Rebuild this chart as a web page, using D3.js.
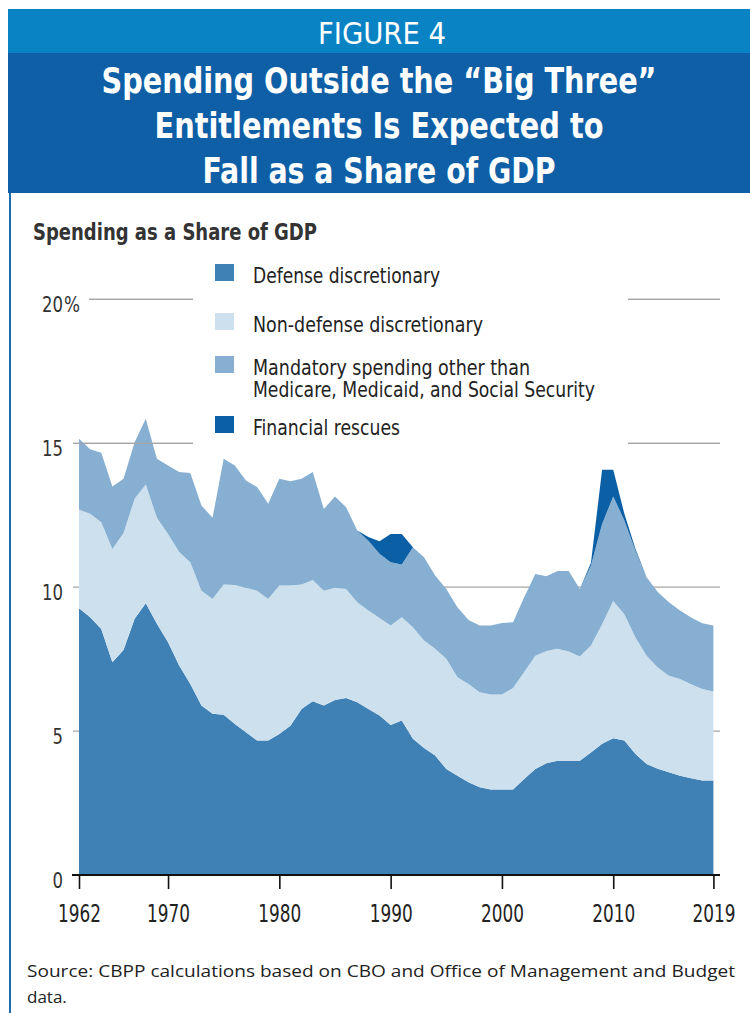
<!DOCTYPE html>
<html lang="en">
<head>
<meta charset="utf-8">
<title>Figure 4 - spending outside the big three</title>
<script src="https://d3js.org/d3.v7.min.js"></script>
<style>
  body { margin: 0; background: #fff; }
  svg { display: block; }
  .cond { font-family: "Liberation Sans Narrow", "DejaVu Sans Condensed", "Roboto Condensed", sans-serif; }
</style>
</head>
<body>
<script>
// years 1962..2019, share of GDP (%)
var years = d3.range(1962, 2020);

var defense = [9.27, 8.96, 8.55, 7.39, 7.82, 8.9, 9.44, 8.73, 8.09, 7.28,
  6.64, 5.89, 5.6, 5.57, 5.25, 4.96, 4.67, 4.67, 4.9, 5.19,
  5.77, 6.04, 5.89, 6.08, 6.15, 6.0, 5.77, 5.54, 5.21, 5.37,
  4.73, 4.41, 4.15, 3.68, 3.45, 3.22, 3.05, 2.97, 2.97, 2.97,
  3.34, 3.68, 3.88, 3.97, 3.97, 3.97, 4.26, 4.56, 4.75, 4.67,
  4.2, 3.86, 3.69, 3.57, 3.45, 3.36, 3.28, 3.28];

var nonDefense = [3.42, 3.59, 3.71, 3.94, 4.06, 4.17, 4.13, 3.68, 3.76, 3.94,
  4.23, 3.99, 3.99, 4.52, 4.83, 5.02, 5.21, 4.92, 5.16, 4.87,
  4.32, 4.21, 3.99, 3.9, 3.79, 3.48, 3.42, 3.39, 3.46, 3.59,
  3.88, 3.74, 3.71, 3.83, 3.42, 3.42, 3.3, 3.3, 3.3, 3.53,
  3.71, 3.94, 3.9, 3.89, 3.8, 3.62, 3.71, 4.15, 4.77, 4.39,
  4.05, 3.76, 3.52, 3.35, 3.36, 3.27, 3.18, 3.1];

var mandatory = [2.47, 2.24, 2.41, 2.17, 1.89, 1.97, 2.28, 2.05, 2.38, 2.78,
  3.1, 2.96, 2.82, 4.37, 4.15, 3.73, 3.6, 3.31, 3.71, 3.62,
  3.68, 3.75, 2.84, 3.17, 2.84, 2.49, 2.42, 2.23, 2.2, 1.83,
  2.78, 2.89, 2.55, 2.43, 2.43, 2.22, 2.32, 2.4, 2.49, 2.28,
  2.6, 2.84, 2.6, 2.7, 2.79, 2.35, 2.78, 3.49, 3.63, 3.26,
  3.02, 2.73, 2.62, 2.56, 2.38, 2.32, 2.29, 2.29];

var rescues = [0, 0, 0, 0, 0, 0, 0, 0, 0, 0,
  0, 0, 0, 0, 0, 0, 0, 0, 0, 0,
  0, 0, 0, 0, 0, 0, 0.13, 0.44, 0.98, 1.06,
  0, 0, 0, 0, 0, 0, 0, 0, 0, 0,
  0, 0, 0, 0, 0, 0, 0.1, 1.88, 0.93, 0.23,
  0.06, 0, 0, 0, 0, 0, 0, 0];

var seriesKeys = ["defense", "nonDefense", "mandatory", "rescues"];
var seriesLabels = [["Defense discretionary"], ["Non-defense discretionary"],
  ["Mandatory spending other than", "Medicare, Medicaid, and Social Security"], ["Financial rescues"]];
var colors = ["#3f80b5", "#cde0ee", "#86afd2", "#0b5fa5"];

var yTicks = [0, 5, 10, 15, 20];
var xTickYears = [1962, 1970, 1980, 1990, 2000, 2010, 2019];

var W = 750, H = 1013;

var rows = years.map(function (yr, i) {
  return { year: yr, defense: defense[i], nonDefense: nonDefense[i], mandatory: mandatory[i], rescues: rescues[i] };
});

var svg = d3.select("body").append("svg")
  .attr("width", W)
  .attr("height", H);

// frame + header bands
svg.append("rect").attr("x", 9).attr("y", 9).attr("width", 2).attr("height", H - 9).attr("fill", "#1a6db3");
svg.append("rect").attr("x", 8).attr("y", 9).attr("width", W - 8).attr("height", 44).attr("fill", "#0983c4");
svg.append("rect").attr("x", 8).attr("y", 53).attr("width", W - 8).attr("height", 140).attr("fill", "#0f5fa6");

svg.append("text").attr("class", "cond")
  .attr("x", 382).attr("y", 44)
  .attr("text-anchor", "middle")
  .attr("fill", "#fff")
  .attr("font-size", 30)
  .attr("textLength", 128).attr("lengthAdjust", "spacingAndGlyphs")
  .text("FIGURE 4");

var titleLines = [
  { t: "Spending Outside the \u201CBig Three\u201D", w: 555, y: 93 },
  { t: "Entitlements Is Expected to", w: 449, y: 138 },
  { t: "Fall as a Share of GDP", w: 353, y: 183 }
];
svg.selectAll("text.title").data(titleLines).join("text")
  .attr("class", "title cond")
  .attr("x", 379).attr("y", function (d) { return d.y; })
  .attr("text-anchor", "middle")
  .attr("fill", "#fff")
  .attr("font-size", 36)
  .attr("font-weight", "bold")
  .attr("textLength", function (d) { return d.w; })
  .attr("lengthAdjust", "spacingAndGlyphs")
  .text(function (d) { return d.t; });

svg.append("text").attr("class", "cond")
  .attr("x", 33).attr("y", 240)
  .attr("fill", "#333")
  .attr("font-size", 23)
  .attr("font-weight", "bold")
  .attr("textLength", 284).attr("lengthAdjust", "spacingAndGlyphs")
  .text("Spending as a Share of GDP");

// scales
var x = d3.scaleLinear().domain([1962, 2019]).range([79, 713.4]);
var y = d3.scaleLinear().domain([0, 20]).range([875, 299.4]);

// gridlines behind the areas
var grid = svg.append("g");
grid.selectAll("line").data(yTicks.filter(function (v) { return v > 0; })).join("line")
  .attr("x1", function (d) { return d === 20 ? 89 : 73; })
  .attr("x2", 720)
  .attr("y1", function (d) { return y(d); })
  .attr("y2", function (d) { return y(d); })
  .attr("stroke", "#a6a6a6")
  .attr("stroke-width", 1.2);

var stack = d3.stack().keys(seriesKeys);
var layers = stack(rows);

var area = d3.area()
  .x(function (d) { return x(d.data.year); })
  .y0(function (d) { return y(d[0]); })
  .y1(function (d) { return y(d[1]); });

svg.append("g").selectAll("path").data(layers).join("path")
  .attr("fill", function (d, i) { return colors[i]; })
  .attr("d", area);

// top gridlines sit over the areas on the left
svg.append("g").selectAll("line").data([15, 20]).join("line")
  .attr("x1", function (d) { return d === 20 ? 89 : 73; })
  .attr("x2", 720)
  .attr("y1", function (d) { return y(d); })
  .attr("y2", function (d) { return y(d); })
  .attr("stroke", "#a6a6a6")
  .attr("stroke-width", 1.2);

// legend (white box breaks the gridlines)
svg.append("rect").attr("x", 193).attr("y", 258).attr("width", 435).attr("height", 190).attr("fill", "#fff");

var legendY = [273, 322, 365, 425];
var legendWidths = { "Defense discretionary": 187, "Non-defense discretionary": 230,
  "Mandatory spending other than": 277, "Medicare, Medicaid, and Social Security": 342,
  "Financial rescues": 147 };
var leg = svg.append("g").selectAll("g").data(seriesLabels).join("g")
  .attr("transform", function (d, i) { return "translate(0," + legendY[i] + ")"; });
leg.append("rect")
  .attr("x", 215).attr("y", -9)
  .attr("width", 19).attr("height", 17)
  .attr("fill", function (d, i) { return colors[i]; });
leg.each(function (lines) {
  var g = d3.select(this);
  lines.forEach(function (s, j) {
    g.append("text").attr("class", "cond")
      .attr("x", 253)
      .attr("y", (lines.length > 1 ? 10 : 10) + j * 22)
      .attr("fill", "#222")
      .attr("font-size", 22)
      .attr("textLength", legendWidths[s]).attr("lengthAdjust", "spacingAndGlyphs")
      .text(s);
  });
});

// y labels: numbers end at x=63, "%" hangs after the top one
svg.append("g").selectAll("text").data(yTicks).join("text")
  .attr("class", "cond")
  .attr("x", 63)
  .attr("y", function (d) { return y(d) + 12.5; })
  .attr("text-anchor", "end")
  .attr("fill", "#333")
  .attr("font-size", 21)
  .attr("textLength", function (d) { return String(d).length * 10.5; })
  .attr("lengthAdjust", "spacingAndGlyphs")
  .text(function (d) { return d; });
svg.append("text").attr("class", "cond")
  .attr("x", 64).attr("y", y(20) + 12.5)
  .attr("fill", "#333").attr("font-size", 21)
  .attr("textLength", 16).attr("lengthAdjust", "spacingAndGlyphs")
  .text("%");

// x axis
var xAxis = d3.axisBottom(x)
  .tickValues(xTickYears)
  .tickFormat(d3.format("d"))
  .tickSize(14)
  .tickSizeOuter(0);
var gx = svg.append("g")
  .attr("transform", "translate(0," + y(0) + ")")
  .call(xAxis);
gx.select(".domain").remove();
gx.append("line").attr("x1", 72).attr("x2", 720).attr("y1", 0).attr("y2", 0)
  .attr("stroke", "#111").attr("stroke-width", 2.2);
gx.selectAll(".tick line").attr("stroke", "#111").attr("stroke-width", 1.6);
gx.selectAll(".tick text")
  .attr("class", "cond")
  .attr("y", 47)
  .attr("dy", 0)
  .attr("fill", "#222")
  .attr("font-size", 25)
  .attr("textLength", 43)
  .attr("lengthAdjust", "spacingAndGlyphs");
gx.attr("font-family", null);

// source note
var note = svg.append("g").attr("font-family", "'Open Sans', 'Noto Sans', sans-serif")
  .attr("font-size", 17).attr("fill", "#222");
note.append("text").attr("x", 27).attr("y", 977)
  .attr("textLength", 708).attr("lengthAdjust", "spacingAndGlyphs")
  .text("Source: CBPP calculations based on CBO and Office of Management and Budget");
note.append("text").attr("x", 27).attr("y", 1003).text("data.");
</script>
</body>
</html>
